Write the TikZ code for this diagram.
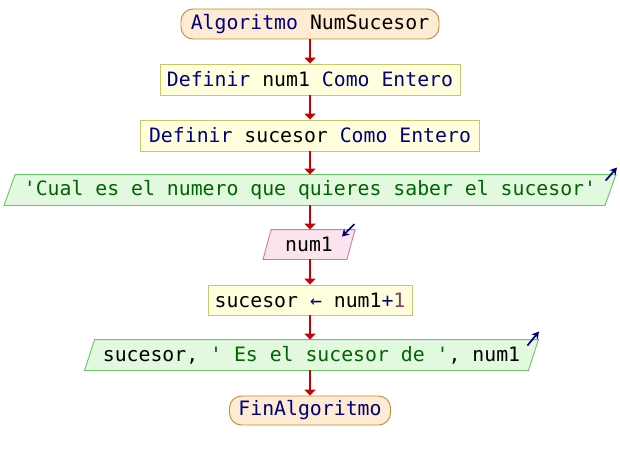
\documentclass[tikz,border=0pt]{standalone}
\usepackage{fontspec}
\setmonofont{DejaVu Sans Mono}
\usetikzlibrary{calc,arrows.meta}
\definecolor{kw}{HTML}{00007F}
\definecolor{strc}{HTML}{006400}
\definecolor{numc}{HTML}{8B3A62}
\definecolor{termfill}{HTML}{FDEBD2}
\definecolor{termdraw}{HTML}{C88A30}
\definecolor{procfill}{HTML}{FFFFDD}
\definecolor{procdraw}{HTML}{C8C86A}
\definecolor{outfill}{HTML}{E2F8DF}
\definecolor{outdraw}{HTML}{6CC46C}
\definecolor{infill}{HTML}{FCE4EE}
\definecolor{indraw}{HTML}{D27AA2}
\definecolor{flowc}{HTML}{CC0000}
\begin{document}
\begin{tikzpicture}[x=1pt,y=-1pt,
  base/.style={inner sep=0pt,font=\ttfamily\fontsize{19.8}{22}\selectfont,line width=0.9pt},
  termbox/.style={base,draw=termdraw,fill=termfill,rounded corners=12pt},
  procbox/.style={base,draw=procdraw,fill=procfill},
  iobox/.style={base},
  flow/.style={draw=flowc,line width=1.6pt,-{Triangle[length=6pt,width=11pt]}},
  ioarrow/.style={draw=kw,line width=1.7pt,-{Stealth[length=7pt,width=8pt]}}
]
\useasboundingbox (0,0) rectangle (620,460);

% terminals and process boxes
\node[termbox,minimum width=258pt,minimum height=30pt] (start) at (310,24)
  {\textcolor{kw}{Algoritmo} NumSucesor};
\node[procbox,minimum width=300pt,minimum height=31pt] (def1) at (310,79.5)
  {\textcolor{kw}{Definir} num1 \textcolor{kw}{Como Entero}};
\node[procbox,minimum width=339pt,minimum height=31pt] (def2) at (310,135.5)
  {\textcolor{kw}{Definir} sucesor \textcolor{kw}{Como Entero}};

% output: question
\node[iobox,minimum width=600pt,minimum height=30pt] (ask) at (310,190) {};
\draw[outdraw,fill=outfill,line width=0.9pt] ($(ask.north west)+(5.5,0)$) -- ($(ask.north east)+(5.5,0)$)
  -- ($(ask.south east)+(-5.5,0)$) -- ($(ask.south west)+(-5.5,0)$) -- cycle;
\node[iobox] at (ask) {\textcolor{strc}{'Cual es el numero que quieres saber el sucesor'}};

% input: num1
\node[iobox,minimum width=83pt,minimum height=29pt] (read) at (309,244.5) {};
\draw[indraw,fill=infill,line width=0.9pt] ($(read.north west)+(4,0)$) -- ($(read.north east)+(4,0)$)
  -- ($(read.south east)+(-4,0)$) -- ($(read.south west)+(-4,0)$) -- cycle;
\node[iobox] at (read) {num1};

% assignment
\node[procbox,minimum width=204pt,minimum height=30pt] (assign) at (310,300)
  {sucesor \textcolor{kw}{←} num1\textcolor{kw}{+}\textcolor{numc}{1}};

% output: result
\node[iobox,minimum width=443pt,minimum height=30pt] (show) at (311.5,355) {};
\draw[outdraw,fill=outfill,line width=0.9pt] ($(show.north west)+(5,0)$) -- ($(show.north east)+(5,0)$)
  -- ($(show.south east)+(-5,0)$) -- ($(show.south west)+(-5,0)$) -- cycle;
\node[iobox] at (show) {sucesor, \textcolor{strc}{' Es el sucesor de '}, num1};

% end terminal
\node[termbox,minimum width=161pt,minimum height=29pt] (finish) at (310,410.5)
  {\textcolor{kw}{FinAlgoritmo}};

% flow connectors
\draw[flow] (start.south) -- (def1.north);
\draw[flow] (def1.south) -- (def2.north);
\draw[flow] (def2.south) -- (ask.north);
\draw[flow] (ask.south) -- ($(read.north)+(1,0)$);
\draw[flow] ($(read.south)+(1,0)$) -- (assign.north);
\draw[flow] (assign.south) -- ($(show.north)+(-1.5,0)$);
\draw[flow] ($(show.south)+(-1.5,0)$) -- (finish.north);

% read/write markers
\draw[ioarrow] ($(ask.north east)+(-4.8,6)$) -- ($(ask.north east)+(6.5,-7)$);
\draw[ioarrow] ($(show.north east)+(-6,6)$) -- ($(show.north east)+(5.5,-8)$);
\draw[ioarrow] ($(read.north east)+(3.5,-5.5)$) -- ($(read.north east)+(-9,7)$);
\end{tikzpicture}
\end{document}
